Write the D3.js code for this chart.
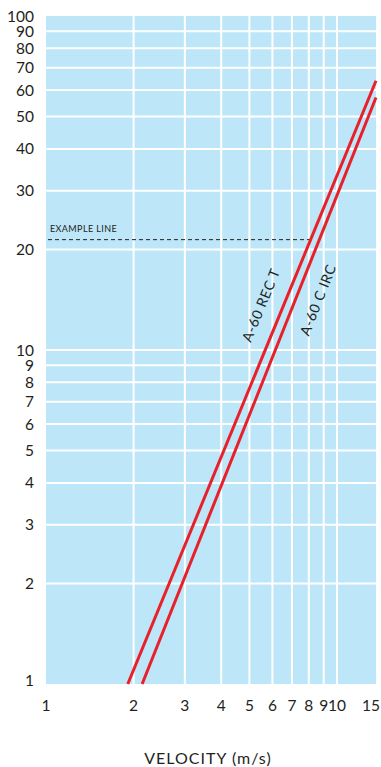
<!DOCTYPE html>
<html>
<head>
<meta charset="utf-8">
<script src="https://cdn.jsdelivr.net/npm/d3@7/dist/d3.min.js"></script>
<style>
  html, body { margin: 0; padding: 0; background: #fff; }
  svg { display: block; }
  text { font-family: Lato, "Open Sans", sans-serif; fill: #231f20; }
</style>
</head>
<body>
<div id="chart"></div>
<script>
// Tick values on both logarithmic axes
const xTicks = [1, 2, 3, 4, 5, 6, 7, 8, 9, 10, 15];
const xGrid = [2, 3, 4, 5, 6, 7, 8, 9, 10];
const yTicks = [1, 2, 3, 4, 5, 6, 7, 8, 9, 10, 20, 30, 40, 50, 60, 70, 80, 90, 100];
const yGrid = [2, 3, 4, 5, 6, 7, 8, 9, 10, 20, 30, 40, 50, 60, 70, 80, 90];

// Two straight lines on the log-log grid (velocity, value)
const rectVelocity = [1.91, 15];
const rectValue = [1, 64];
const circVelocity = [2.14, 15];
const circValue = [1, 57];

const seriesNames = ["A-60 REC T", "A-60 C IRC"];
const labelAt = [12.9, 14.9]; // value along each line where its name sits
const exampleValue = 21.4;
const xTitle = "VELOCITY (m/s)";

const W = 381, H = 767;
const svg = d3.select("#chart").append("svg").attr("width", W).attr("height", H);

// the last decade segment (10 to 15) is compressed on this sheet
const x = d3.scaleLog().domain([1, 10, 15]).range([46, 337, 376]);
const y = d3.scaleLog().domain([1, 100]).range([684, 16]);

// plot background
svg.append("rect")
  .attr("x", x(1)).attr("y", y(100))
  .attr("width", x(15) - x(1)).attr("height", y(1) - y(100))
  .attr("fill", "#bde6f8");

// white grid
svg.append("g").selectAll("line").data(xGrid).join("line")
  .attr("x1", d => x(d)).attr("x2", d => x(d))
  .attr("y1", y(100)).attr("y2", y(1))
  .attr("stroke", "#fff").attr("stroke-width", 2);
svg.append("g").selectAll("line").data(yGrid).join("line")
  .attr("x1", x(1)).attr("x2", x(15))
  .attr("y1", d => y(d)).attr("y2", d => y(d))
  .attr("stroke", "#fff").attr("stroke-width", 2);

// y tick labels
svg.append("g").selectAll("text").data(yTicks).join("text")
  .attr("x", 34).attr("y", d => y(d) - (d === 1 ? 4 : 0))
  .attr("dy", "0.36em")
  .attr("text-anchor", "end")
  .attr("font-size", 15.5)
  .text(d => d);

// x tick labels (the last one sits flush with the right edge)
svg.append("g").selectAll("text").data(xTicks).join("text")
  .attr("x", d => d === 15 ? W - 1 : x(d)).attr("y", 705)
  .attr("dy", "0.36em")
  .attr("text-anchor", d => d === 15 ? "end" : "middle")
  .attr("font-size", 15.5)
  .text(d => d);

// axis title
svg.append("text")
  .attr("x", 208).attr("y", 758).attr("dy", "0.36em")
  .attr("text-anchor", "middle")
  .attr("font-size", 16)
  .attr("letter-spacing", 1)
  .text(xTitle);

const series = [
  { name: seriesNames[0], at: labelAt[0], pts: rectVelocity.map((v, i) => [v, rectValue[i]]), side: 1 },
  { name: seriesNames[1], at: labelAt[1], pts: circVelocity.map((v, i) => [v, circValue[i]]), side: -1 }
];

// example dashed line runs from the axis to the first line
const r0 = series[0].pts.map(p => [x(p[0]), y(p[1])]);
const ey = y(exampleValue);
const ex = r0[0][0] + (ey - r0[0][1]) * (r0[1][0] - r0[0][0]) / (r0[1][1] - r0[0][1]);
svg.append("line")
  .attr("x1", x(1) + 2).attr("x2", ex)
  .attr("y1", ey).attr("y2", ey)
  .attr("stroke", "#231f20").attr("stroke-width", 1)
  .attr("stroke-dasharray", "4,3");
svg.append("text")
  .attr("x", x(1) + 4).attr("y", ey - 8)
  .attr("font-size", 9)
  .attr("letter-spacing", 0.4)
  .text("EXAMPLE LINE");

// red lines
const line = d3.line().x(d => x(d[0])).y(d => y(d[1]));
svg.append("g").selectAll("path").data(series).join("path")
  .attr("d", d => line(d.pts))
  .attr("fill", "none")
  .attr("stroke", "#e8202a")
  .attr("stroke-width", 3);

// rotated line labels, set off to one side of each line
series.forEach(s => {
  const [p0, p1] = s.pts.map(p => [x(p[0]), y(p[1])]);
  const ly = y(s.at);
  const lx = p0[0] + (ly - p0[1]) * (p1[0] - p0[0]) / (p1[1] - p0[1]);
  const ang = Math.atan2(p1[1] - p0[1], p1[0] - p0[0]);
  const off = 21 * s.side;
  const nx = -Math.sin(ang), ny = Math.cos(ang);
  const cx = lx - nx * off, cy = ly - ny * off;
  svg.append("text")
    .attr("transform", `translate(${cx},${cy}) rotate(${ang * 180 / Math.PI})`)
    .attr("text-anchor", "middle")
    .attr("dy", "0.36em")
    .attr("font-size", 14)
    .attr("letter-spacing", 0.6)
    .text(s.name);
});
</script>
</body>
</html>
